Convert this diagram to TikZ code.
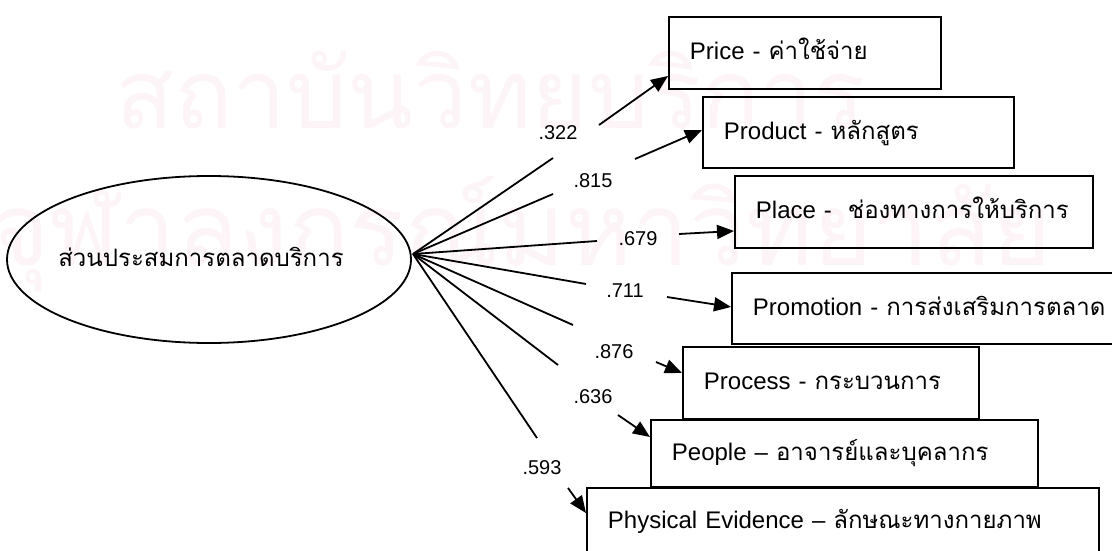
\documentclass[tikz,border=0pt]{standalone}
\usepackage{fontspec}
\usepackage{graphicx}
\setmainfont{Liberation Sans}
\newfontfamily\thai[Script=Thai]{Loma}
\usetikzlibrary{arrows.meta,shapes.geometric}
\definecolor{wm}{RGB}{253,244,247}
\begin{document}
\begin{tikzpicture}[x=1pt,y=-1pt,
  box/.style={draw,line width=1.9pt,anchor=north west,inner xsep=21pt,inner ysep=0pt,
    align=left,text height=18pt,text depth=4pt,font=\fontsize{24}{28}\selectfont},
  conn/.style={line width=1.8pt},
  arr/.style={line width=1.8pt,-{Triangle[length=17pt,width=14pt]}},
  lbl/.style={font=\fontsize{20}{24}\selectfont,inner sep=0pt},
  wmark/.style={anchor=base west,inner sep=0pt,text=wm}]
\useasboundingbox (0,0) rectangle (1112,551);
\clip (0,0) rectangle (1112,551);
% watermark
\node[wmark] (wm1) at (115,128) {\resizebox{750pt}{!}{\thai สถาบันวิทยบริการ}};
\node[wmark] (wm2) at (-10,265) {\resizebox{1060pt}{!}{\thai จุฬาลงกรณ์มหาวิทยาลัย}};
% latent variable
\node[ellipse,draw,line width=1.8pt,minimum width=404pt,minimum height=167pt,inner sep=0pt] (latent) at (209,259.5) {};
\node[font=\fontsize{24}{28}\selectfont\thai,inner sep=0pt] (latenttext) at (201,257) {ส่วนประสมการตลาดบริการ};
% indicator boxes
\node[box,minimum width=272pt,minimum height=72pt,text width=230pt] (price) at (668,16) {Price - {\thai ค่าใช้จ่าย}};
\node[box,minimum width=311pt,minimum height=71pt,text width=269pt] (product) at (702,96) {Product - {\thai หลักสูตร}};
\node[box,minimum width=358pt,minimum height=72pt,text width=316pt] (place) at (734,175) {Place -\ \ {\thai ช่องทางการให้บริการ}};
\node[box,minimum width=400pt,minimum height=71pt,text width=358pt] (promotion) at (731,272) {Promotion - {\thai การส่งเสริมการตลาด}};
\node[box,minimum width=296pt,minimum height=72pt,text width=254pt] (process) at (682,346) {Process - {\thai กระบวนการ}};
\node[box,minimum width=387pt,minimum height=67pt,text width=345pt] (people) at (650,419) {People – {\thai อาจารย์และบุคลากร}};
\node[box,minimum width=512pt,minimum height=68pt,text width=470pt] (physical) at (586,487) {Physical Evidence – {\thai ลักษณะทางกายภาพ}};
% connector points
\coordinate (hub) at (413,254);
\coordinate (e1) at (553,158); \coordinate (s1) at (599,125); \coordinate (t1) at (668,76);
\coordinate (e2) at (553,194); \coordinate (s2) at (635,159); \coordinate (t2) at (702,130);
\coordinate (e3) at (597,241); \coordinate (s3) at (679,234); \coordinate (t3) at (734,231);
\coordinate (e4) at (586,284); \coordinate (s4) at (667,297); \coordinate (t4) at (731,307);
\coordinate (e5) at (573,325); \coordinate (s5) at (656,362); \coordinate (t5) at (682,373);
\coordinate (e6) at (558,365); \coordinate (s6) at (618,415); \coordinate (t6) at (650,437);
\coordinate (e7) at (537,438); \coordinate (s7) at (568,488); \coordinate (t7) at (586,513);
\foreach \i in {1,...,7}{
  \draw[conn] (hub) -- (e\i);
  \draw[arr] (s\i) -- (t\i);
}
% loadings
\node[lbl] (l1) at (558,133) {.322};
\node[lbl] (l2) at (593,181) {.815};
\node[lbl] (l3) at (638,239) {.679};
\node[lbl] (l4) at (625,291) {.711};
\node[lbl] (l5) at (614,352) {.876};
\node[lbl] (l6) at (593,397) {.636};
\node[lbl] (l7) at (542,468) {.593};
\end{tikzpicture}
\end{document}
